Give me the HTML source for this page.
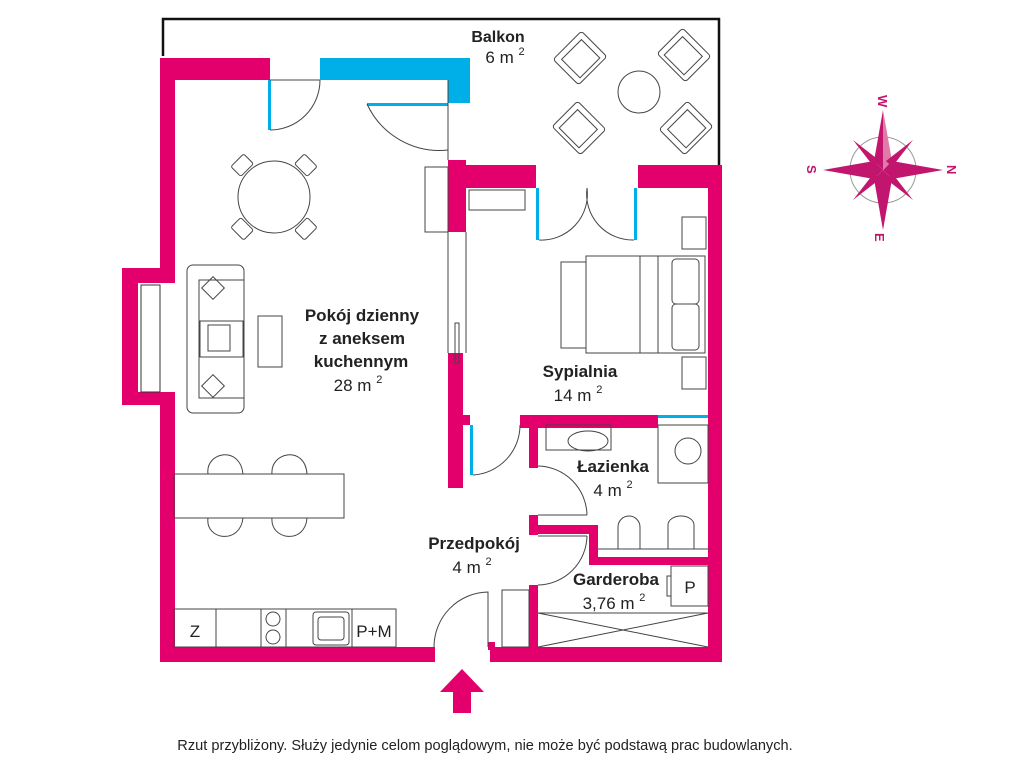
<!DOCTYPE html>
<html><head><meta charset="utf-8"><style>
html,body{margin:0;padding:0;background:#fff;}
svg{display:block;}
text{font-family:"Liberation Sans","DejaVu Sans",sans-serif;fill:#222;}
</style></head><body>
<svg width="1024" height="767" viewBox="0 0 1024 767" xmlns="http://www.w3.org/2000/svg">
<rect width="1024" height="767" fill="#fff"/>
<polyline points="163,56 163,19 719,19 719,165" fill="none" stroke="#111" stroke-width="2.5"/>
<g fill="#e4006c">
<rect x="160" y="58" width="110" height="22"/>
<rect x="160" y="58" width="15" height="210"/>
<rect x="122" y="268" width="53" height="15"/>
<rect x="122" y="268" width="16" height="137"/>
<rect x="122" y="392" width="53" height="13"/>
<rect x="160" y="392" width="15" height="270"/>
<rect x="160" y="647" width="275" height="15"/>
<rect x="490" y="647" width="232" height="15"/>
<rect x="708" y="165" width="14" height="497"/>
<rect x="448" y="165" width="88" height="23"/>
<rect x="638" y="165" width="84" height="23"/>
<rect x="448" y="160" width="18" height="72"/>
<rect x="448" y="353" width="15" height="135"/>
<rect x="462" y="415" width="8" height="10"/>
<rect x="520" y="415" width="138" height="13"/>
<rect x="529" y="415" width="9" height="53"/>
<rect x="529" y="515" width="9" height="20"/>
<rect x="529" y="525" width="66" height="9"/>
<rect x="589" y="525" width="9" height="40"/>
<rect x="589" y="557" width="121" height="8"/>
<rect x="529" y="585" width="9" height="65"/>
<rect x="488" y="642" width="7" height="8"/>
</g>
<rect x="141" y="285" width="19" height="107" fill="#fff" stroke="#333" stroke-width="1"/>
<g fill="#00aee8">
<rect x="320" y="58" width="150" height="22"/>
<rect x="448" y="58" width="22" height="45"/>
<rect x="658" y="415" width="50" height="3"/>
<rect x="268" y="80" width="3" height="50"/>
<rect x="367" y="103" width="81" height="3"/>
<rect x="536" y="188" width="3" height="52"/>
<rect x="634" y="188" width="3" height="52"/>
<rect x="470" y="425" width="3" height="50"/>
</g>
<g fill="none" stroke="#444" stroke-width="1">
<path d="M270,80 L320,80 M270,130 A50,50 0 0 0 320,80"/>
<path d="M367,104 A80,80 0 0 0 448,150"/>
<path d="M539,240 A46,46 0 0 0 587,188 M634,240 A46,46 0 0 1 587,188"/>
<path d="M473,475 A50,50 0 0 0 520,425"/>
<path d="M538,466 A50,50 0 0 1 587,515 M538,515 L587,515 M538,536 L587,536 M538,585 A50,50 0 0 0 587,536"/>
<path d="M434,647 A55,55 0 0 1 488,592 L488,647"/>
<rect x="502" y="590" width="27" height="57"/>
<path d="M448,232 L448,353 M466,232 L466,353 M448,80 L448,160"/>
<rect x="455" y="323" width="4" height="40"/>
<circle cx="274" cy="197" r="36"/>
<g transform="rotate(45 274 197)"><rect x="265" y="145" width="18" height="14" rx="2"/><rect x="265" y="235" width="18" height="14" rx="2"/><rect x="222" y="188" width="14" height="18" rx="2"/><rect x="312" y="188" width="14" height="18" rx="2"/></g>
<rect x="187" y="265" width="57" height="148" rx="6"/>
<rect x="199" y="280" width="45" height="118"/>
<rect x="200" y="321" width="43" height="36"/>
<rect x="208" y="325" width="22" height="26"/>
<rect x="205" y="280" width="16" height="16" transform="rotate(45 213 288)"/>
<rect x="205" y="378" width="16" height="16" transform="rotate(45 213 386)"/>
<rect x="258" y="316" width="24" height="51"/>
<rect x="174" y="474" width="170" height="44"/>
<path d="M208,474 C205,452 240,445 243,474 M272,474 C270,452 305,445 307,474 M208,518 C205,540 240,545 243,518 M272,518 C270,540 305,545 307,518"/>
<rect x="174" y="609" width="222" height="38"/>
<path d="M216,609 V647 M261,609 V647 M286,609 V647 M352,609 V647"/>
<circle cx="273" cy="619" r="7"/><circle cx="273" cy="637" r="7"/>
<rect x="313" y="612" width="36" height="33" rx="3"/><rect x="318" y="617" width="26" height="23" rx="3"/>
<rect x="469" y="190" width="56" height="20"/>
<rect x="425" y="167" width="23" height="65"/>
<rect x="682" y="217" width="24" height="32"/>
<rect x="682" y="357" width="24" height="32"/>
<rect x="561" y="262" width="25" height="86"/>
<rect x="586" y="256" width="119" height="97"/>
<path d="M640,256 V353 M658,256 V353"/>
<rect x="672" y="259" width="27" height="45" rx="4"/><rect x="672" y="304" width="27" height="46" rx="4"/>
<circle cx="639" cy="92" r="21"/>
<g transform="rotate(-45 580 58)"><rect x="560" y="40" width="40" height="36" rx="3"/><rect x="566" y="46" width="28" height="26"/></g>
<g transform="rotate(45 684 55)"><rect x="664" y="37" width="40" height="36" rx="3"/><rect x="670" y="43" width="28" height="26"/></g>
<g transform="rotate(45 579 128)"><rect x="559" y="110" width="40" height="36" rx="3"/><rect x="565" y="116" width="28" height="26"/></g>
<g transform="rotate(-45 686 128)"><rect x="666" y="110" width="40" height="36" rx="3"/><rect x="672" y="116" width="28" height="26"/></g>
<rect x="546" y="425" width="65" height="25"/>
<ellipse cx="588" cy="441" rx="20" ry="10"/>
<rect x="658" y="425" width="50" height="58"/>
<circle cx="688" cy="451" r="13"/>
<path d="M598,549 L709,549"/>
<path d="M618,549 V527 A11,11 0 0 1 640,527 V549"/>
<path d="M668,549 V525 A13,9 0 0 1 694,525 V549"/>
<rect x="671" y="566" width="37" height="40"/>
<rect x="667" y="576" width="4" height="20"/>
<path d="M538,613 H708 M538,613 L708,647 M538,647 L708,613"/>
</g>
<polygon points="462,669 440,692 453,692 453,713 471,713 471,692 484,692" fill="#e4006c"/>
<g transform="translate(883,170)">
<circle r="33" fill="none" stroke="#999" stroke-width="1"/>
<g fill="#c2166e">
<polygon points="0,-60 -9,-9 0,0"/><polygon points="0,60 9,9 0,0"/>
<polygon points="-60,0 -9,9 0,0"/><polygon points="60,0 9,-9 0,0"/>
<polygon points="0,-60 9,-9 0,0" fill="#e07aa8"/><polygon points="0,60 -9,9 0,0"/>
<polygon points="-60,0 -9,-9 0,0"/><polygon points="60,0 9,9 0,0"/>
<polygon points="-30,-30 -3,-9 -9,-3"/><polygon points="30,-30 9,-3 3,-9"/>
<polygon points="-30,30 -9,3 -3,9"/><polygon points="30,30 3,9 9,3"/>
</g>
</g>
<g font-weight="bold" font-size="13">
<text transform="translate(878,95) rotate(90)" style="fill:#c2166e">W</text>
<text transform="translate(947,165) rotate(90)" style="fill:#c2166e">N</text>
<text transform="translate(875,233) rotate(90)" style="fill:#c2166e">E</text>
<text transform="translate(807,165) rotate(90)" style="fill:#c2166e">S</text>
</g>
<g font-size="17" text-anchor="middle">
<text x="498" y="42" font-weight="bold" font-size="16">Balkon</text>
<text x="505" y="63">6 m <tspan font-size="11" dy="-8">2</tspan></text>
<text x="362" y="321" font-weight="bold">Pokój dzienny</text>
<text x="362" y="344" font-weight="bold">z aneksem</text>
<text x="361" y="367" font-weight="bold">kuchennym</text>
<text x="358" y="391">28 m <tspan font-size="11" dy="-8">2</tspan></text>
<text x="580" y="377" font-weight="bold">Sypialnia</text>
<text x="578" y="401">14 m <tspan font-size="11" dy="-8">2</tspan></text>
<text x="613" y="472" font-weight="bold">Łazienka</text>
<text x="613" y="496">4 m <tspan font-size="11" dy="-8">2</tspan></text>
<text x="474" y="549" font-weight="bold">Przedpokój</text>
<text x="472" y="573">4 m <tspan font-size="11" dy="-8">2</tspan></text>
<text x="616" y="585" font-weight="bold">Garderoba</text>
<text x="614" y="609">3,76 m <tspan font-size="11" dy="-8">2</tspan></text>
<text x="690" y="593">P</text>
<text x="195" y="637">Z</text>
<text x="374" y="637">P+M</text>
</g>
<text x="485" y="750" font-size="14.6" text-anchor="middle">Rzut przybliżony. Służy jedynie celom poglądowym, nie może być podstawą prac budowlanych.</text>
</svg>
</body></html>
